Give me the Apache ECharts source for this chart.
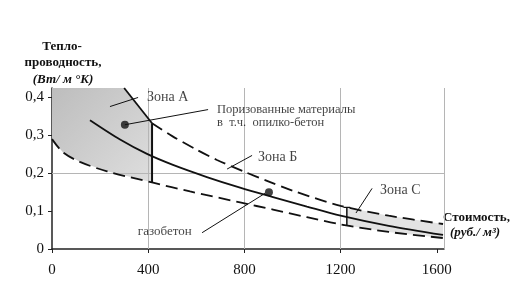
<!DOCTYPE html>
<html><head><meta charset="utf-8">
<script src="https://cdn.jsdelivr.net/npm/echarts@6/dist/echarts.min.js"></script>
<style>html,body{margin:0;padding:0;background:#fff}#c{width:524px;height:303px}</style>
</head><body><div id="c"></div>
<script>
// ---- data (cost, rub/m3 ; thermal conductivity, W/m K) ----
var xTicks = [0, 400, 800, 1200, 1600];
var yTicks = [0, 0.1, 0.2, 0.3, 0.4];
var xGridLines = [400, 800, 1200, 1630];
var yGridLines = [0.2];
var midCurve = [[158,0.34],[283,0.289],[395,0.251],[503,0.222],[644,0.19],[782,0.162],[919,0.137],[1060,0.112],[1200,0.088],[1400,0.061],[1626,0.037]];
var upperZoneA = [[300,0.425],[416,0.332]];
var upperCurve = [[416,0.332],[500,0.298],[602,0.262],[686,0.235],[800,0.204],[894,0.18],[1000,0.154],[1200,0.114],[1400,0.088],[1626,0.066]];
var lowerCurve = [[0,0.29],[46,0.255],[116,0.23],[229,0.205],[420,0.175],[574,0.152],[782,0.123],[919,0.104],[1060,0.084],[1200,0.065],[1400,0.045],[1626,0.029]];
var zoneAArea = [[0,0.425],[300,0.425],[416,0.332],[416,0.176],[229,0.205],[116,0.23],[46,0.255],[0,0.29]];
var zoneCArea = [[1226,0.110],[1400,0.088],[1626,0.066],[1626,0.029],[1400,0.045],[1226,0.062]];
var zoneABound = [[416,0.176],[416,0.332]];
var zoneCBound = [[1226,0.062],[1226,0.110]];
var zoneCCapTop = [[1212,0.110],[1240,0.110]];
var zoneCCapBottom = [[1212,0.062],[1240,0.062]];
var materialPoints = [[303,0.328],[902,0.15]];
var leaderA = [[241,0.376],[358,0.400]];
var leaderPor = [[303,0.328],[649,0.368]];
var leaderB = [[728,0.211],[832,0.247]];
var leaderGaz = [[624,0.043],[886,0.147]];
var leaderC = [[1264,0.095],[1331,0.160]];
var notes = [
  {text:'Зона А', at:[395,0.401], size:14},
  {text:'Поризованные материалы', at:[686,0.367], size:12.5},
  {text:'в  т.ч.  опилко-бетон', at:[686,0.333], size:12.5},
  {text:'Зона Б', at:[857,0.243], size:14},
  {text:'газобетон', at:[357,0.045], size:13},
  {text:'Зона С', at:[1364,0.155], size:14}
];

var SERIF = '"Liberation Serif","DejaVu Serif",serif';
var chart = echarts.init(document.getElementById('c'));

function line(data, opts) {
  return Object.assign({type:'line', data:data, symbol:'none', silent:true, z:5,
    lineStyle:{color:'#111', width:1.8}}, opts || {});
}
function poly(points, fill) {
  return {type:'custom', silent:true, z:1, data:[[0,0]],
    renderItem:function(params, api){
      return {type:'polygon', shape:{points:points.map(function(p){return api.coord(p);})}, style:{fill:fill}};
    }};
}
var thin = {lineStyle:{color:'#111', width:1}};
var dashed = {smooth:0.3, lineStyle:{color:'#111', width:1.8, type:[12,6]}};
var series = [
  poly(zoneAArea, {type:'linear', x:0, y:0, x2:1, y2:1, colorStops:[{offset:0,color:'#bdbdbd'},{offset:1,color:'#dedede'}]}),
  poly(zoneCArea, '#e3e3e3'),
  line(midCurve, {smooth:0.3}),
  line(upperZoneA, {}),
  line(upperCurve, dashed),
  line(lowerCurve, dashed),
  line(zoneABound, {lineStyle:{color:'#111', width:2}}),
  line(zoneCBound, {lineStyle:{color:'#111', width:1.5}}),
  line(zoneCCapTop, {lineStyle:{color:'#111', width:1.2}}),
  line(zoneCCapBottom, {lineStyle:{color:'#111', width:1.2}}),
  line(leaderA, thin),
  line(leaderPor, thin),
  line(leaderB, thin),
  line(leaderGaz, thin),
  line(leaderC, thin),
  {type:'scatter', data:materialPoints, symbolSize:8, itemStyle:{color:'#111'}, silent:true, z:6},
  {type:'scatter', silent:true, z:7, symbolSize:0,
    data: notes.map(function(n){return {value:n.at, label:{show:true, position:[0,0], align:'left', verticalAlign:'middle',
      formatter:n.text, fontFamily:SERIF, fontSize:n.size, color:'#111'}};})},
  {type:'line', data:[], z:0, markLine:{silent:true, symbol:'none', label:{show:false},
    lineStyle:{color:'#b5b5b5', width:1, type:'solid'},
    data: xGridLines.map(function(v){return {xAxis:v};}).concat(yGridLines.map(function(v){return {yAxis:v};}))}}
];

chart.setOption({
  animation:false,
  grid:{left:52, right:80, top:88, bottom:54, containLabel:false},
  xAxis:{type:'value', min:0, max:1630, interval:400,
    axisLine:{show:true, lineStyle:{color:'#222', width:1.5}},
    axisTick:{show:true, length:4, lineStyle:{color:'#222'}},
    axisLabel:{show:true, showMaxLabel:false, margin:14, fontFamily:SERIF, fontSize:15, color:'#111',
      formatter:function(v){return xTicks.indexOf(v)>=0 ? String(v) : '';}},
    splitLine:{show:false}},
  yAxis:{type:'value', min:0, max:0.425, interval:0.1,
    axisLine:{show:true, lineStyle:{color:'#222', width:1.5}},
    axisTick:{show:true, length:4, lineStyle:{color:'#222'}},
    axisLabel:{show:true, showMaxLabel:false, margin:8, fontFamily:SERIF, fontSize:15, color:'#111',
      formatter:function(v){
        for (var i=0;i<yTicks.length;i++){ if (Math.abs(yTicks[i]-v)<1e-9) return v===0?'0':yTicks[i].toFixed(1).replace('.',','); }
        return '';
      }},
    splitLine:{show:false}},
  graphic:[
    {type:'text', x:62, y:47, style:{text:'Тепло-', fontFamily:SERIF, fontSize:13, fontWeight:'bold', fill:'#111', align:'center', verticalAlign:'middle'}},
    {type:'text', x:63, y:63, style:{text:'проводность,', fontFamily:SERIF, fontSize:13, fontWeight:'bold', fill:'#111', align:'center', verticalAlign:'middle'}},
    {type:'text', x:63, y:80, style:{text:'(Вт/ м °K)', fontFamily:SERIF, fontSize:13, fontWeight:'bold', fontStyle:'italic', fill:'#111', align:'center', verticalAlign:'middle'}},
    {type:'text', x:443, y:218, style:{text:'Стоимость,', fontFamily:SERIF, fontSize:13, fontWeight:'bold', fill:'#111', align:'left', verticalAlign:'middle'}},
    {type:'text', x:450, y:233, style:{text:'(руб./ м³)', fontFamily:SERIF, fontSize:13, fontWeight:'bold', fontStyle:'italic', fill:'#111', align:'left', verticalAlign:'middle'}}
  ],
  series:series
});
</script></body></html>
